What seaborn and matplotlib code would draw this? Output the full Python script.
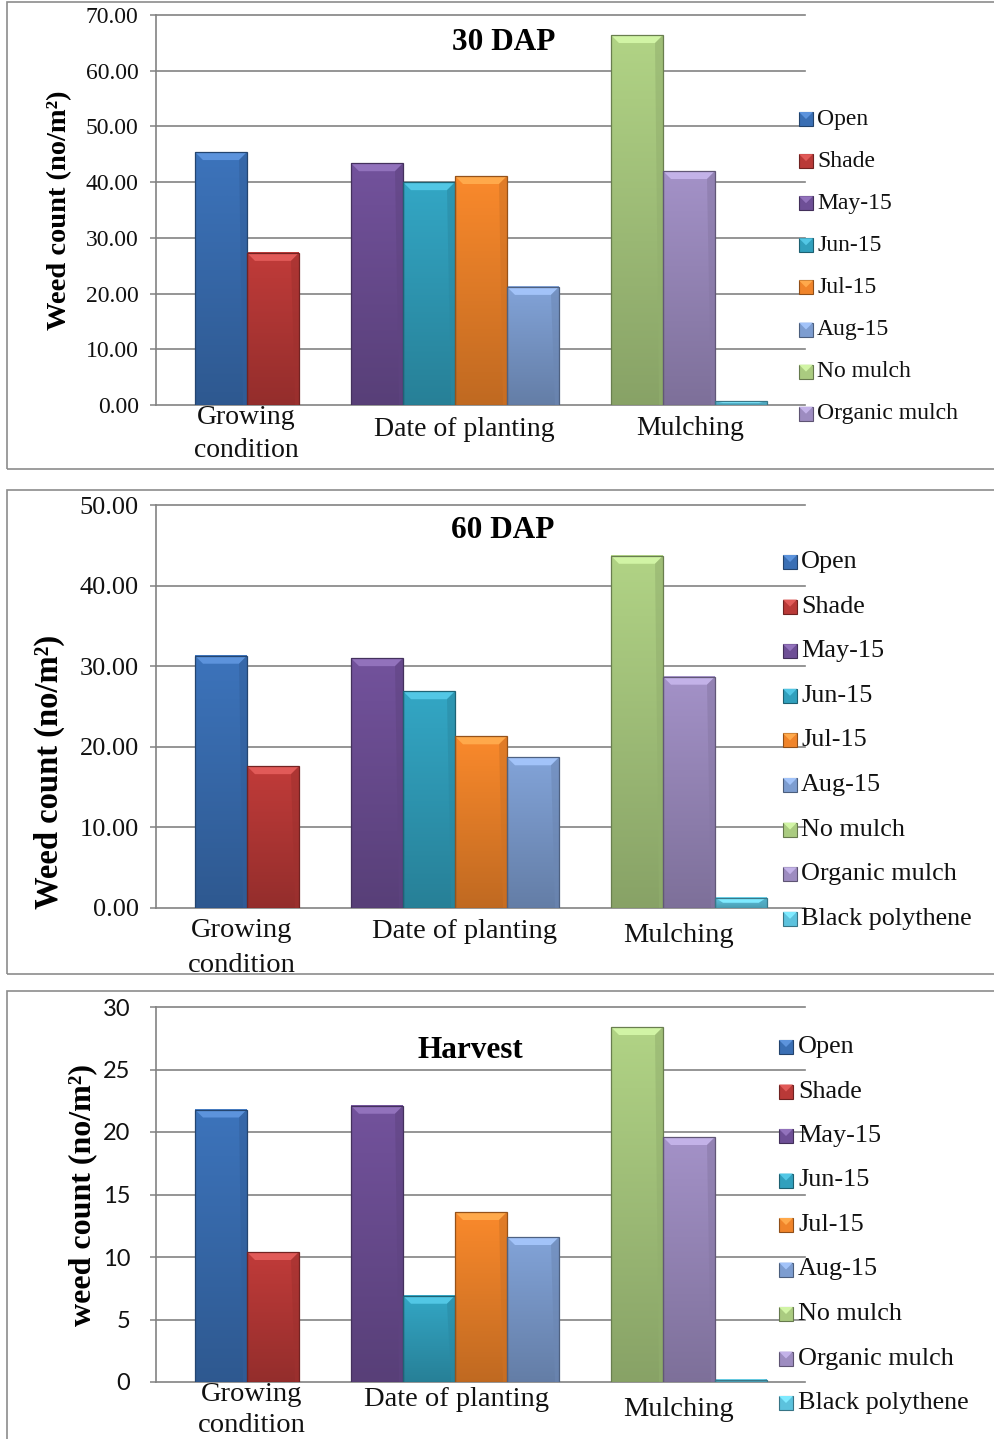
import numpy as np
import pandas as pd
import matplotlib
matplotlib.use("Agg")
import matplotlib.pyplot as plt
import matplotlib.colors as mcolors
from matplotlib.patches import Rectangle, Polygon
import seaborn as sns

# ---- data -------------------------------------------------------------
treatments = ["Open", "Shade", "May-15", "Jun-15", "Jul-15", "Aug-15",
              "No mulch", "Organic mulch", "Black polythene"]
factor_of = ["Growing condition", "Growing condition",
             "Date of planting", "Date of planting", "Date of planting", "Date of planting",
             "Mulching", "Mulching", "Mulching"]
factors = ["Growing condition", "Date of planting", "Mulching"]
factor_labels = ["Growing\ncondition", "Date of planting", "Mulching"]

count_30dap = [45.4, 27.3, 43.4, 40.0, 41.1, 21.2, 66.4, 42.0, 0.7]
count_60dap = [31.3, 17.6, 31.0, 26.9, 21.3, 18.7, 43.7, 28.7, 1.3]
count_harvest = [21.8, 10.4, 22.1, 6.9, 13.6, 11.6, 28.4, 19.6, 0.2]

panel_titles = ["30 DAP", "60 DAP", "Harvest"]
y_labels = ["Weed count (no/m\u00b2)", "Weed count (no/m\u00b2)", "weed count (no/m\u00b2)"]
y_maxima = [70, 50, 30]
y_steps = [10, 10, 5]
legend_counts = [8, 9, 9]

bar_colors = ["#3A6FB4", "#B93937", "#6E4F96", "#31A0BD", "#F0842A",
              "#7D9DD0", "#AACB80", "#9D8CC0", "#5CC2DD"]
palette = dict(zip(treatments, bar_colors))

# category slots with an empty slot between factor groups
order = []
for f in factors:
    if order:
        order.append(" " * len(order))
    order += [t for t, g in zip(treatments, factor_of) if g == f]

# ---- figure layout (pixels) -------------------------------------------
W, H = 994, 1439
fig = plt.figure(figsize=(W / 100, H / 100), dpi=100)
SERIF = "Liberation Serif"

def fx(px):
    return px / W

def fy(py):
    return 1 - py / H

layout = [
    dict(ax=(156, 805, 15, 405), frame=(7, 2, 1000, 469), tick_size=17, tick_font=SERIF,
         tick_pad=8, fmt="{:.2f}", cat_size=20, cat_dx=[-1, 9, 1], cat_dy=[29, 25, 23],
         cat_ls=1.45, leg=(799, 817, 119, 42.1), leg_size=17, title=(504, 43),
         title_size=22.5, ylab=(60, 210), ylab_size=20.5),
    dict(ax=(156, 805, 505, 908), frame=(7, 490, 1000, 974), tick_size=19, tick_font=SERIF,
         tick_pad=8, fmt="{:.2f}", cat_size=20.5, cat_dx=[-5, 10, -11], cat_dy=[40, 24, 28],
         cat_ls=1.55, leg=(783, 801, 562, 44.6), leg_size=18.8, title=(503, 530),
         title_size=22.5, ylab=(49, 772), ylab_size=23.5),
    dict(ax=(156, 805, 1007, 1382), frame=(7, 991, 1000, 1460), tick_size=17, tick_font="Lato",
         tick_pad=14, fmt="{:.0f}", cat_size=20.5, cat_dx=[5, 2, -11], cat_dy=[28, 18, 28],
         cat_ls=1.36, leg=(779, 798, 1047, 44.5), leg_size=18.8, title=(470, 1050),
         title_size=22.5, ylab=(83, 1195), ylab_size=23),
]

values_by_panel = [count_30dap, count_60dap, count_harvest]
GRID = "#838383"


def bevel_bars(ax, px_x, px_y):
    """Give each bar a vertical shading and a lighter bevelled top."""
    for patch in list(ax.patches):
        h = patch.get_height()
        if not np.isfinite(h) or h <= 0:
            continue
        x, w = patch.get_x(), patch.get_width()
        base = np.array(mcolors.to_rgb(patch.get_facecolor()))
        t = np.linspace(0, 1, 64)[:, None]
        shade = np.clip(base[None, :] * (0.80 + 0.24 * t), 0, 1)
        img = np.repeat(shade[:, None, :], 2, axis=1)
        ax.imshow(img, extent=[x, x + w, 0, h], origin="lower", aspect="auto",
                  zorder=2, interpolation="bilinear")
        patch.set_facecolor("none")
        patch.set_edgecolor(tuple(base * 0.62))
        patch.set_linewidth(0.9)
        patch.set_zorder(3)
        ix = 8 / px_x
        iy = min(8 / px_y, h / 2)
        top = np.clip(base * 1.05 + 0.12, 0, 1)
        ax.add_patch(Polygon([(x, h), (x + w, h), (x + w - ix, h - iy), (x + ix, h - iy)],
                             closed=True, facecolor=top, edgecolor="none", zorder=2.5))
        side = np.clip(base * 0.86, 0, 1)
        ax.add_patch(Polygon([(x + w, h), (x + w, 0), (x + w - ix * 0.5, 0), (x + w - ix, h - iy)],
                             closed=True, facecolor=side, edgecolor="none", zorder=2.5,
                             alpha=0.55))


for values, L, title, ylab, ymax, ystep, nleg in zip(
        values_by_panel, layout, panel_titles, y_labels, y_maxima, y_steps, legend_counts):
    left, right, top, bottom = L["ax"]
    ax = fig.add_axes([fx(left), fy(bottom), (right - left) / W, (bottom - top) / H])

    df = pd.DataFrame({"treatment": treatments, "count": values, "factor": factor_of})
    sns.barplot(data=df, x="treatment", y="count", hue="treatment", order=order,
                palette=palette, width=1.0, errorbar=None, legend=False,
                linewidth=0, saturation=1, ax=ax)

    slot_px = 52.0
    ax_w = right - left
    lo = -0.5 - 39 / slot_px
    px_y = (bottom - top) / ymax
    bevel_bars(ax, slot_px, px_y)
    ax.set_xlim(lo, lo + ax_w / slot_px)
    ax.set_ylim(0, ymax)

    # axes styling
    ax.set_facecolor("white")
    ax.set_xticks([])
    ax.set_xlabel("")
    ax.set_ylabel("")
    yt = np.arange(0, ymax + ystep / 2, ystep)
    ax.set_yticks(yt)
    ax.set_yticklabels([L["fmt"].format(v) for v in yt], fontfamily=L["tick_font"],
                       fontsize=L["tick_size"], color="#111111")
    ax.tick_params(axis="y", length=4.5, width=1.1, color=GRID, pad=L["tick_pad"])
    for yv in yt:
        ax.axhline(yv, color=GRID, lw=1.2, zorder=1, clip_on=False)
    for s in ["top", "right", "bottom"]:
        ax.spines[s].set_visible(False)
    ax.spines["left"].set_color(GRID)
    ax.spines["left"].set_linewidth(1.2)

    # factor group labels under the axis
    pos = {c: i for i, c in enumerate(order)}
    for k, (f, lab) in enumerate(zip(factors, factor_labels)):
        centre = np.mean([pos[t] for t, g in zip(treatments, factor_of) if g == f])
        xpx = left + (centre - lo) * slot_px + L["cat_dx"][k]
        ypx = bottom + L["cat_dy"][k]
        fig.text(fx(xpx), fy(ypx), lab, ha="center", va="center", fontfamily=SERIF,
                 fontsize=L["cat_size"], linespacing=L["cat_ls"], color="#111111")

    # title
    fig.text(fx(L["title"][0]), fy(L["title"][1]), title, ha="center", va="center",
             fontfamily=SERIF, fontweight="bold", fontsize=L["title_size"], color="black")

    # y-axis label
    fig.text(fx(L["ylab"][0]), fy(L["ylab"][1]), ylab, ha="center", va="center",
             rotation=90, fontfamily=SERIF, fontweight="bold", fontsize=L["ylab_size"],
             color="black")

    # legend
    mx, tx, y0, dy = L["leg"]
    for i in range(nleg):
        yc = y0 + i * dy
        c = np.array(mcolors.to_rgb(bar_colors[i]))
        fig.add_artist(Rectangle((fx(mx), fy(yc + 7)), 14 / W, 14 / H,
                                 transform=fig.transFigure, facecolor=c,
                                 edgecolor=tuple(c * 0.6), linewidth=0.8))
        fig.add_artist(Polygon([(fx(mx), fy(yc - 7)), (fx(mx + 14), fy(yc - 7)),
                                (fx(mx + 7), fy(yc))], closed=True,
                               transform=fig.transFigure,
                               facecolor=tuple(np.clip(c * 1.05 + 0.12, 0, 1)),
                               edgecolor="none"))
        fig.text(fx(tx), fy(yc), treatments[i], ha="left", va="center",
                 fontfamily=SERIF, fontsize=L["leg_size"], color="#111111")

    # panel frame
    x0, y0f, x1, y1f = L["frame"]
    fig.add_artist(Rectangle((fx(x0), fy(y1f)), (x1 - x0) / W, (y1f - y0f) / H,
                             transform=fig.transFigure, facecolor="none",
                             edgecolor="#8C8C8C", linewidth=1.2, zorder=0))

fig.savefig("out.png", dpi=100, facecolor="white")
